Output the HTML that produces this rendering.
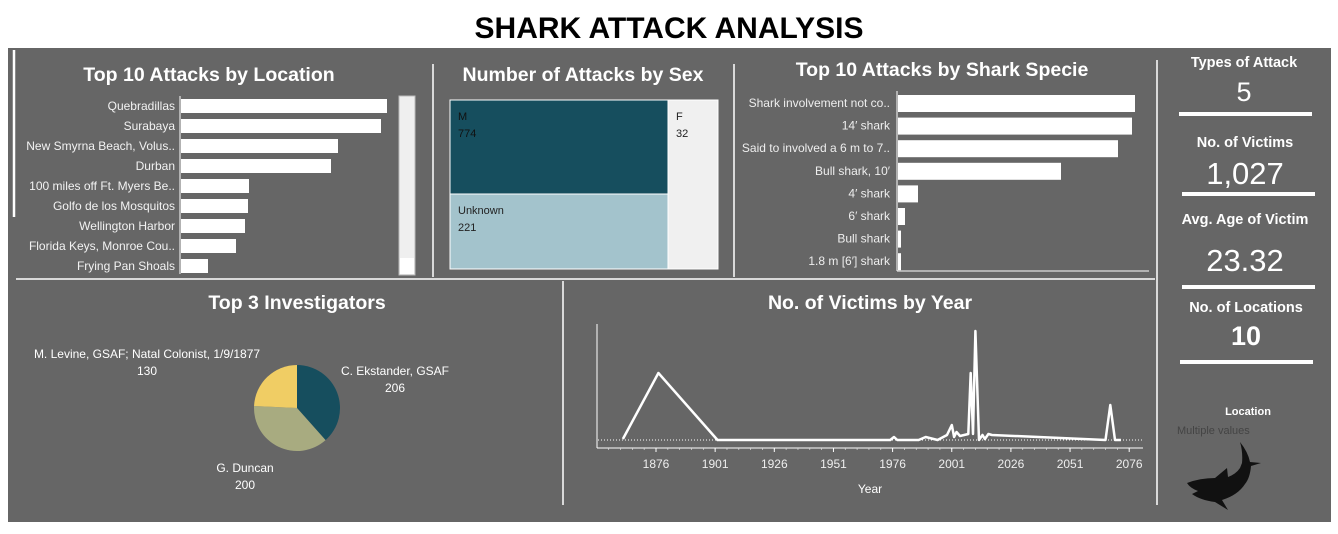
<!DOCTYPE html>
<html><head><meta charset="utf-8"><style>
html,body{margin:0;padding:0;background:#fff;}
body{width:1338px;height:529px;position:relative;overflow:hidden;font-family:"Liberation Sans",sans-serif;}
svg text{font-family:"Liberation Sans",sans-serif;}
</style></head><body>
<svg width="1338" height="529" xmlns="http://www.w3.org/2000/svg">
<text x="669" y="38" text-anchor="middle" font-size="30" font-weight="bold" fill="#000">SHARK ATTACK ANALYSIS</text>
<rect x="8" y="48" width="1323" height="474" fill="#666"/>
<g stroke="#fff" stroke-width="1.5">
<line x1="14" y1="50" x2="14" y2="217" stroke-width="2.5"/>
<line x1="433" y1="64" x2="433" y2="277"/>
<line x1="734" y1="64" x2="734" y2="277"/>
<line x1="1157" y1="60" x2="1157" y2="505"/>
<line x1="16" y1="279" x2="1155" y2="279"/>
<line x1="563" y1="281" x2="563" y2="505"/>
</g>
<g fill="#fff" font-weight="bold" font-size="19.5" text-anchor="middle">
<text x="209" y="81">Top 10 Attacks by Location</text>
<text x="583" y="81">Number of Attacks by Sex</text>
<text x="942" y="76">Top 10 Attacks by Shark Specie</text>
<text x="297" y="309">Top 3 Investigators</text>
<text x="870" y="309">No. of Victims by Year</text>
</g>
<g id="loc"></g>
<rect x="399" y="96" width="16" height="179" fill="#efefef" stroke="#bbb"/>
<rect x="400" y="258" width="14" height="16" fill="#fff"/>
<g id="sex"></g>
<g id="spec"></g>
<g id="pie"></g>
<g id="line"></g>
<g fill="#fff" text-anchor="middle">
<text x="1244" y="67" font-size="14.5" font-weight="bold">Types of Attack</text>
<text x="1244" y="101" font-size="27">5</text>
<rect x="1179" y="112" width="133" height="4"/>
<text x="1245" y="147" font-size="14.5" font-weight="bold">No. of Victims</text>
<text x="1245" y="184" font-size="31">1,027</text>
<rect x="1182" y="192" width="133" height="4"/>
<text x="1245" y="224" font-size="14.5" font-weight="bold">Avg. Age of Victim</text>
<text x="1245" y="271" font-size="31">23.32</text>
<rect x="1182" y="285" width="133" height="4"/>
<text x="1246" y="312" font-size="14.5" font-weight="bold">No. of Locations</text>
<text x="1246" y="345" font-size="27" font-weight="bold">10</text>
<rect x="1180" y="360" width="133" height="4"/>
<text x="1248" y="415" font-size="11" font-weight="bold">Location</text>
</g>
<text x="1177" y="434" font-size="11" fill="#444">Multiple values</text>
<path d="M1187,483 Q1200,478 1215,478 L1227,468 L1228,477 Q1236,474 1240,468 L1242,463 Q1243,452 1240,442 Q1248,452 1250,462 L1261,463 L1251,466 Q1250,478 1245,484 Q1238,495 1222,500 L1228,510 L1215,502 Q1200,500 1192,494 L1198,491 Q1190,488 1187,483 Z" fill="#111"/>
</svg>
<script>
const NS='http://www.w3.org/2000/svg';
function mk(p,t,a,txt){const e=document.createElementNS(NS,t);for(const k in a)e.setAttribute(k,a[k]);if(txt!==undefined)e.textContent=txt;p.appendChild(e);return e;}

// Location chart data
const locNames=['Quebradillas','Surabaya','New Smyrna Beach, Volus..','Durban','100 miles off Ft. Myers Be..','Golfo de los Mosquitos','Wellington Harbor','Florida Keys, Monroe Cou..','Frying Pan Shoals'];
const locValues=[206,200,157,150,68,67,64,55,27];
// Sex treemap data
const sexCats=['M','Unknown','F'];
const sexValues=[774,221,32];
// Species data
const specNames=['Shark involvement not co..','14\u2032 shark','Said to involved a 6 m to 7..','Bull shark, 10\u2032','4\u2032 shark','6\u2032 shark','Bull shark','1.8 m [6\u2032] shark'];
const specValues=[237,234,220,163,20,7,3,3];
// Investigators
const invNames=['C. Ekstander, GSAF','G. Duncan','M. Levine, GSAF; Natal Colonist, 1/9/1877'];
const invValues=[206,200,130];
// Victims by year
const years=[1862,1877,1902,1975,1976.6,1978,1987,1990,1995,1999,2001,2002,2003,2004.5,2008,2009,2010,2011,2012.5,2014,2015,2016.5,2018,2066,2068,2070,2072.5];
const victims=[1,67,0,0,3,0,0,3,0,5,15,3,8,4,6,67,6,109,0,5,1,6,5,0,35,0,0];
const yearTicks=[1876,1901,1926,1951,1976,2001,2026,2051,2076];

// Location bars
(function(){const g=document.getElementById('loc');
const x=v=>v*1.0;
mk(g,'line',{x1:180,y1:96,x2:180,y2:274,stroke:'#fff','stroke-width':1});
locNames.forEach((n,i)=>{const cy=106+i*20;
const t=mk(g,'text',{x:175,y:cy+4,'text-anchor':'end','font-size':12,fill:'#f2f2f2'},n);


const r=mk(g,'rect',{x:181,y:cy-7,width:x(locValues[i]),height:14,fill:'#fff'});

});})();

// Treemap (tableau squarified layout approximated)
(function(){const g=document.getElementById('sex');
const X0=450,X1=718,Y0=100,Y1=269;
const tot=sexValues.reduce((a,b)=>a+b,0);
// column split & row split tuned to reference proportions
const wMain=218/268*(X1-X0)*(sexValues[0]+sexValues[1])/(tot-sexValues[2])/( (sexValues[0]+sexValues[1])/(tot-sexValues[2]) );
const hM=94/169*(Y1-Y0);
const cells=[[X0,Y0,wMain,hM,'#164e5e','#111'],[X0,Y0+hM,wMain,Y1-Y0-hM,'#a3c3cc','#222'],[X0+wMain,Y0,X1-X0-wMain,Y1-Y0,'#f0f0f0','#222']];
cells.forEach((c,i)=>{const r=mk(g,'rect',{x:c[0],y:c[1],width:c[2],height:c[3],fill:c[4],stroke:'#fff','stroke-width':1});


const t=mk(g,'text',{x:c[0]+8,y:c[1]+20,'font-size':11,fill:c[5]},sexCats[i]);


const v=mk(g,'text',{x:c[0]+8,y:c[1]+37,'font-size':11,fill:c[5]},String(sexValues[i]));

});})();

// Species bars
(function(){const g=document.getElementById('spec');
const x=v=>v*1.0;
mk(g,'line',{x1:897,y1:91,x2:897,y2:271,stroke:'#fff','stroke-width':1});
mk(g,'line',{x1:897,y1:271,x2:1149,y2:271,stroke:'#fff','stroke-width':1});
specNames.forEach((n,i)=>{const cy=103+i*22.6;
const t=mk(g,'text',{x:890,y:cy+4,'text-anchor':'end','font-size':12,fill:'#eee'},n);


const r=mk(g,'rect',{x:898,y:cy-8,width:Math.max(x(specValues[i]),1.5),height:17,fill:'#fff'});

});})();

// Pie
(function(){const g=document.getElementById('pie');
const cx=297,cy=408,R=43,cols=['#164e5e','#a8ab80','#f0cd64'];
const tot=invValues.reduce((a,b)=>a+b,0);let a0=-Math.PI/2;
invValues.forEach((v,i)=>{const a1=a0+v/tot*2*Math.PI;
const p=`M${cx},${cy} L${cx+R*Math.cos(a0)},${cy+R*Math.sin(a0)} A${R},${R} 0 ${a1-a0>Math.PI?1:0} 1 ${cx+R*Math.cos(a1)},${cy+R*Math.sin(a1)} Z`;
const s=mk(g,'path',{d:p,fill:cols[i]});

a0=a1;});
const lp=[[395,375],[245,472],[147,358]];
invNames.forEach((n,i)=>{const t=mk(g,'text',{x:lp[i][0],y:lp[i][1],'text-anchor':'middle','font-size':12,fill:'#fff'},n);


const v=mk(g,'text',{x:lp[i][0],y:lp[i][1]+17,'text-anchor':'middle','font-size':12,fill:'#fff'},String(invValues[i]));

});})();

// Line chart
(function(){const g=document.getElementById('line');
const X=y=>656+(y-1876)*2.366, Y=v=>440-v*1.0;
mk(g,'line',{x1:597,y1:324,x2:597,y2:448,stroke:'#fff','stroke-width':1});
mk(g,'line',{x1:597,y1:448,x2:1143,y2:448,stroke:'#fff','stroke-width':1});
mk(g,'line',{x1:598,y1:Y(0),x2:1143,y2:Y(0),stroke:'#fff','stroke-width':1,'stroke-dasharray':'1,2'});
for(let yr=1856;yr<=2080;yr+=5){mk(g,'line',{x1:X(yr),y1:448,x2:X(yr),y2:450,stroke:'#ddd','stroke-width':0.7});}
yearTicks.forEach(t=>{mk(g,'line',{x1:X(t),y1:448,x2:X(t),y2:452,stroke:'#fff','stroke-width':1});
const l=mk(g,'text',{x:X(t),y:468,'text-anchor':'middle','font-size':12,fill:'#eee'},String(t));

});
const xt=mk(g,'text',{x:870,y:493,'text-anchor':'middle','font-size':12,fill:'#fff'},'Year');


const pts=years.map((y,i)=>X(y).toFixed(1)+','+Y(victims[i]).toFixed(1)).join(' ');
const pl=mk(g,'polyline',{points:pts,fill:'none',stroke:'#fff','stroke-width':2.5,'stroke-linejoin':'round'});

})();
</script>
</body></html>
